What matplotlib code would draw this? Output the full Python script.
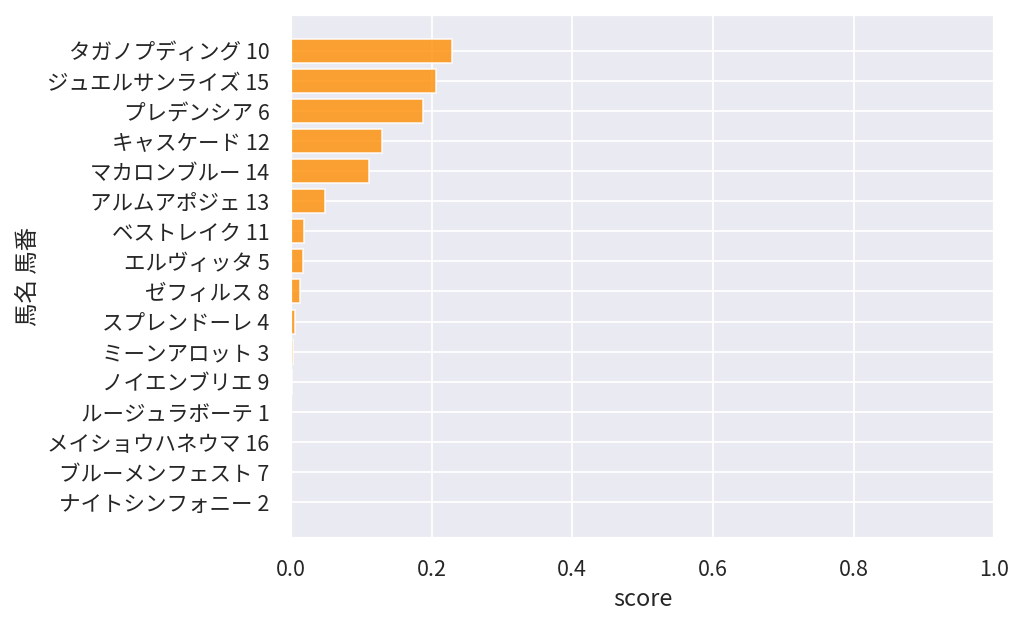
import numpy as np
import matplotlib
matplotlib.use("Agg")
import matplotlib.pyplot as plt
import seaborn as sns

# 上から順 (score 降順)
horses = ["タガノプディング 10", "ジュエルサンライズ 15", "プレデンシア 6", "キャスケード 12",
          "マカロンブルー 14", "アルムアポジェ 13", "ベストレイク 11", "エルヴィッタ 5",
          "ゼフィルス 8", "スプレンドーレ 4", "ミーンアロット 3", "ノイエンブリエ 9",
          "ルージュラボーテ 1", "メイショウハネウマ 16", "ブルーメンフェスト 7", "ナイトシンフォニー 2"]
scores = [0.2295, 0.2068, 0.1878, 0.129, 0.111, 0.048, 0.019, 0.017,
          0.0133, 0.0066, 0.0024, 0.0022, 0.0008, 0.0006, 0.0004, 0.0003]

sns.set_theme(style="darkgrid", font_scale=1.1)
plt.rcParams["font.family"] = ["Noto Sans CJK JP", "DejaVu Sans"]

fig, ax = plt.subplots(figsize=(8, 4.9), dpi=128)
y = np.arange(len(horses))[::-1]
ax.barh(y, scores, height=0.8, color="darkorange", alpha=0.8, edgecolor="white", linewidth=1)
ax.set_yticks(y)
ax.set_yticklabels(horses)
ax.tick_params(axis="y", pad=6)
ax.tick_params(axis="x", pad=5.5)
ax.set_xlim(0, 1)
ax.set_xlabel("score")
ax.set_ylabel("馬名 馬番")

fig.subplots_adjust(left=0.284, right=0.971, bottom=0.142, top=0.976)
fig.savefig("out.png", dpi=128)
